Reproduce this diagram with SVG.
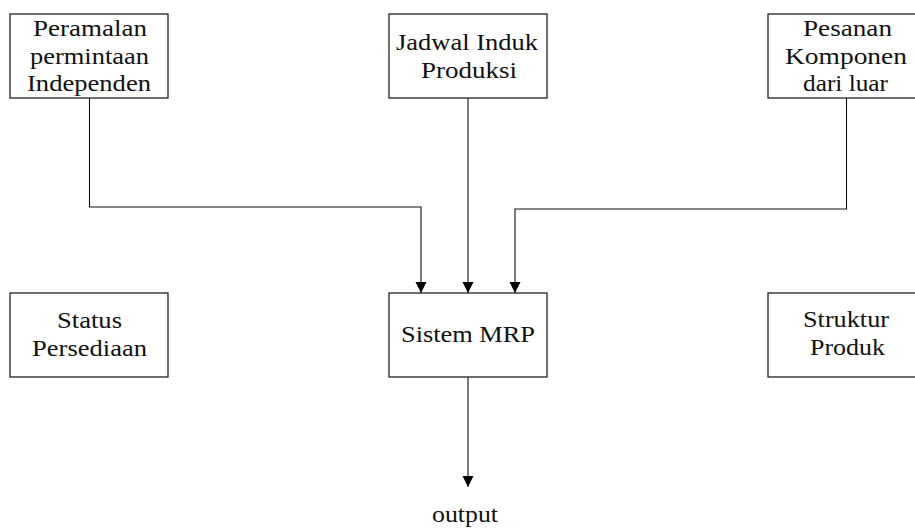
<svg xmlns="http://www.w3.org/2000/svg" width="915" height="528" viewBox="0 0 915 528">
<style>
.box{fill:#fff;stroke:#222;stroke-width:1.3}
.t{font-family:"Liberation Serif","Times New Roman",serif;font-size:24px;fill:#111;text-anchor:middle}
.c{fill:none;stroke:#111;stroke-width:1.1}
</style>
<defs>
<marker id="ah" markerUnits="userSpaceOnUse" markerWidth="12" markerHeight="12" refX="11" refY="6" orient="auto">
<path d="M0,0.5 L11,6 L0,11.5 z" fill="#000"/>
</marker>
</defs>
<rect width="915" height="528" fill="#fff"/>
<g id="connectors">
<polyline class="c" points="89.5,98 89.5,207 421,207 421,293" marker-end="url(#ah)"/>
<polyline class="c" points="468,98 468,293" marker-end="url(#ah)"/>
<polyline class="c" points="846.5,98 846.5,209 515,209 515,293" marker-end="url(#ah)"/>
<polyline class="c" points="468,377 468,487" marker-end="url(#ah)"/>
</g>
<g id="n-peramalan">
<rect class="box" x="10" y="14" width="158" height="84"/>
<text class="t" x="90" y="36" textLength="114" lengthAdjust="spacingAndGlyphs">Peramalan</text>
<text class="t" x="89.5" y="64" textLength="119" lengthAdjust="spacingAndGlyphs">permintaan</text>
<text class="t" x="89" y="91" textLength="124" lengthAdjust="spacingAndGlyphs">Independen</text>
</g>
<g id="n-jadwal">
<rect class="box" x="389" y="14" width="158" height="84"/>
<text class="t" x="467" y="50" textLength="142" lengthAdjust="spacingAndGlyphs">Jadwal Induk</text>
<text class="t" x="469" y="78" textLength="96" lengthAdjust="spacingAndGlyphs">Produksi</text>
</g>
<g id="n-pesanan">
<rect class="box" x="768" y="14" width="170" height="84"/>
<text class="t" x="847.5" y="36" textLength="89" lengthAdjust="spacingAndGlyphs">Pesanan</text>
<text class="t" x="846" y="64" textLength="122" lengthAdjust="spacingAndGlyphs">Komponen</text>
<text class="t" x="845.5" y="91" textLength="85" lengthAdjust="spacingAndGlyphs">dari luar</text>
</g>
<g id="n-status">
<rect class="box" x="10" y="293" width="158" height="84"/>
<text class="t" x="89.5" y="328" textLength="65" lengthAdjust="spacingAndGlyphs">Status</text>
<text class="t" x="89.5" y="356" textLength="115" lengthAdjust="spacingAndGlyphs">Persediaan</text>
</g>
<g id="n-mrp">
<rect class="box" x="389" y="293" width="158" height="84"/>
<text class="t" x="468" y="342" textLength="134" lengthAdjust="spacingAndGlyphs">Sistem MRP</text>
</g>
<g id="n-struktur">
<rect class="box" x="768" y="293" width="170" height="84"/>
<text class="t" x="846" y="327" textLength="86" lengthAdjust="spacingAndGlyphs">Struktur</text>
<text class="t" x="847.5" y="355" textLength="75" lengthAdjust="spacingAndGlyphs">Produk</text>
</g>
<g id="n-output">
<text class="t" x="465" y="522" textLength="66" lengthAdjust="spacingAndGlyphs">output</text>
</g>
</svg>
